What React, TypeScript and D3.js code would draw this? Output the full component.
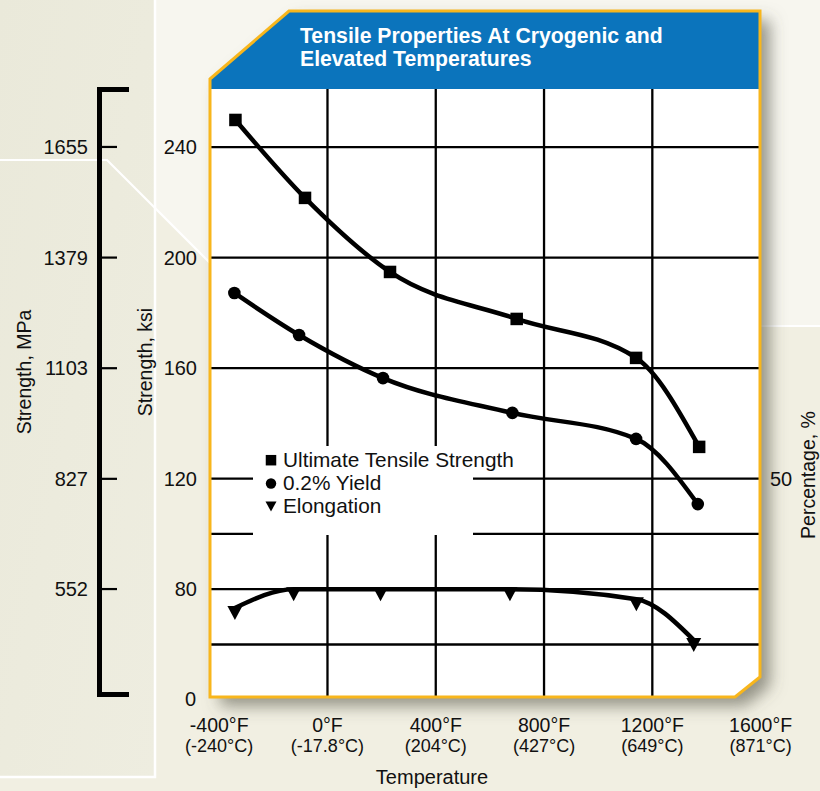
import React from 'react';
import * as d3 from 'd3';

// ---------- data ----------
const tempTicksF = [-400, 0, 400, 800, 1200, 1600];
const tempLabelsF = ['-400°F', '0°F', '400°F', '800°F', '1200°F', '1600°F'];
const tempLabelsC = ['(-240°C)', '(-17.8°C)', '(204°C)', '(427°C)', '(649°C)', '(871°C)'];
const ksiTicks = [240, 200, 160, 120, 80];
const ksiGridLines = [240, 200, 160, 120, 100, 80, 60];
const mpaTicks = [1655, 1379, 1103, 827, 552];
const pctTicks = [50];

const utsTempF = [-340, -83, 231, 699, 1140, 1373];
const utsKsi = [249.8, 221.6, 194.8, 177.8, 163.7, 131.5];
const yieldTempF = [-344, -105, 205, 683, 1140, 1368];
const yieldKsi = [187.2, 172, 156.4, 143.8, 134.4, 110.8];
const elongTempF = [-342, -125, 196, 674, 1141, 1353];
const elongPct = [26.6, 30, 30, 30, 28.2, 20.8];

const seriesNames = ['Ultimate Tensile Strength', '0.2% Yield', 'Elongation'];
const titleLines = ['Tensile Properties At Cryogenic and', 'Elevated Temperatures'];

// ---------- layout ----------
const W = 820;
const H = 791;
const plotL = 210;
const plotR = 760;
const plotT = 89;
const plotB = 697;
const headT = 11;
const FONT = "'Liberation Sans', Arial, Helvetica, sans-serif";

const x = d3.scaleLinear().domain([-400, 1600]).range([219.2, 760.6]);
const yKsi = d3.scaleLinear().domain([41, 261]).range([plotB, plotT]);
const yMpa = d3.scaleLinear().domain([41 * 6.895, 261 * 6.895]).range([plotB, plotT]);
const yPct = d3.scaleLinear().domain([(41 - 20) / 2, (261 - 20) / 2]).range([plotB, plotT]);

const line = d3.line<[number, number]>().curve(d3.curveMonotoneX);

function Square({ cx, cy, s }: { cx: number; cy: number; s: number }) {
  return <rect x={cx - s / 2} y={cy - s / 2} width={s} height={s} fill="#000" />;
}
function Tri({ cx, cy, w, h, top }: { cx: number; cy: number; w: number; h: number; top: number }) {
  const p = `M${cx - w / 2},${cy + top} L${cx + w / 2},${cy + top} L${cx},${cy + top + h} Z`;
  return <path d={p} fill="#000" />;
}

export default function App() {
  const utsPts: [number, number][] = utsTempF.map((t, i) => [x(t), yKsi(utsKsi[i])]);
  const yldPts: [number, number][] = yieldTempF.map((t, i) => [x(t), yKsi(yieldKsi[i])]);
  const elPts: [number, number][] = elongTempF.map((t, i) => [x(t), yPct(elongPct[i])]);

  const panel = `M${plotL},79 L289,${headT} L${plotR},${headT} L${plotR},677 L735,${plotB} L${plotL},${plotB} Z`;
  const header = `M${plotL},79 L289,${headT} L${plotR},${headT} L${plotR},${plotT} L${plotL},${plotT} Z`;

  const legX = 271;
  const legBase = [466.7, 490, 513];

  return (
    <svg width={W} height={H} style={{ position: 'absolute', left: 0, top: 0 }} fontFamily={FONT}>
      <defs>
        <filter id="shadow" x="-10%" y="-10%" width="130%" height="130%">
          <feDropShadow dx="10" dy="9" stdDeviation="8" floodColor="#56564a" floodOpacity="0.6" />
        </filter>
        <linearGradient id="bgL" x1="0" y1="0" x2="1" y2="1">
          <stop offset="0" stopColor="#EAE9DA" />
          <stop offset="1" stopColor="#EEEDE0" />
        </linearGradient>
      </defs>

      {/* background */}
      <rect x={0} y={0} width={W} height={H} fill="#F1EFE2" />
      <rect x={0} y={0} width={155} height={777} fill="url(#bgL)" />
      <path d="M156,0 L820,0 L820,326 L272,326 L156,210 Z" fill="#F7F6EF" />
      <path d="M0,160 L107,160 L273,326 L820,326" fill="none" stroke="#FFFFFF" strokeWidth={2.2} />
      <path d="M155,0 L155,777 L0,777" fill="none" stroke="#FFFFFF" strokeWidth={2.5} />

      {/* MPa bracket axis */}
      <path d="M129,89.5 L99.5,89.5 L99.5,694.5 L129,694.5" fill="none" stroke="#000" strokeWidth={5} />
      {mpaTicks.map((m) => (
        <g key={m}>
          <line x1={100} x2={117} y1={yMpa(m)} y2={yMpa(m)} stroke="#000" strokeWidth={2.2} />
          <text x={88} y={yMpa(m)} dy="0.36em" textAnchor="end" fontSize={20} fill="#111">
            {m}
          </text>
        </g>
      ))}
      <text transform={`translate(31,372) rotate(-90)`} textAnchor="middle" fontSize={19.5} fill="#111">
        Strength, MPa
      </text>

      {/* ksi labels */}
      {ksiTicks.map((k) => (
        <text key={k} x={197} y={yKsi(k)} dy="0.36em" textAnchor="end" fontSize={20} fill="#111">
          {k}
        </text>
      ))}
      <text x={196} y={plotB + 2} dy="0.36em" textAnchor="end" fontSize={20} fill="#111">
        0
      </text>
      <text transform={`translate(152,362) rotate(-90)`} textAnchor="middle" fontSize={19.5} fill="#111">
        Strength, ksi
      </text>

      {/* panel */}
      <path d={panel} fill="#FFFFFF" filter="url(#shadow)" />

      {/* grid */}
      {ksiGridLines.map((k) => (
        <line key={k} x1={plotL} x2={plotR} y1={yKsi(k)} y2={yKsi(k)} stroke="#000" strokeWidth={2.3} />
      ))}
      {tempTicksF.slice(1, 5).map((t) => (
        <line key={t} x1={x(t)} x2={x(t)} y1={plotT} y2={plotB} stroke="#000" strokeWidth={2.3} />
      ))}

      {/* header */}
      <path d={header} fill="#0B74BC" />
      {titleLines.map((t, i) => (
        <text key={t} x={300} y={43 + i * 23} fontSize={21.2} fontWeight="bold" fill="#FFFFFF">
          {t}
        </text>
      ))}

      {/* panel border */}
      <path d={panel} fill="none" stroke="#F8B61C" strokeWidth={3} strokeLinejoin="miter" />

      {/* legend box */}
      <rect x={253} y={446} width={220} height={89} fill="#FFFFFF" />

      {/* curves */}
      <path d={line(utsPts) || ''} fill="none" stroke="#000" strokeWidth={4.5} />
      <path d={line(yldPts) || ''} fill="none" stroke="#000" strokeWidth={4.5} />
      <path d={line(elPts) || ''} fill="none" stroke="#000" strokeWidth={4.5} />

      {utsPts.map(([px, py], i) => (
        <Square key={'u' + i} cx={px} cy={py} s={12.5} />
      ))}
      {yldPts.map(([px, py], i) => (
        <circle key={'y' + i} cx={px} cy={py} r={6.3} fill="#000" />
      ))}
      {elPts.map(([px, py], i) => (
        <Tri key={'e' + i} cx={px} cy={py} w={15} h={14} top={-2} />
      ))}

      {/* legend */}
      <Square cx={legX} cy={legBase[0] - 6.5} s={10.5} />
      <circle cx={legX} cy={legBase[1] - 6.5} r={5.2} fill="#000" />
      <Tri cx={legX} cy={legBase[2] - 6.5} w={11} h={10} top={-5} />
      {seriesNames.map((n, i) => (
        <text key={n} x={283} y={legBase[i]} fontSize={20.8} fill="#111">
          {n}
        </text>
      ))}

      {/* right axis */}
      {pctTicks.map((p) => (
        <text key={p} x={781} y={yPct(p)} dy="0.36em" textAnchor="middle" fontSize={20} fill="#111">
          {p}
        </text>
      ))}
      <text transform={`translate(815,475) rotate(-90)`} textAnchor="middle" fontSize={19.5} fill="#111">
        Percentage, %
      </text>

      {/* x axis labels */}
      {tempTicksF.map((t, i) => (
        <g key={t}>
          <text x={x(t)} y={732} textAnchor="middle" fontSize={19.5} fill="#111">
            {tempLabelsF[i]}
          </text>
          <text x={x(t)} y={752} textAnchor="middle" fontSize={18} fill="#111">
            {tempLabelsC[i]}
          </text>
        </g>
      ))}
      <text x={432} y={784} textAnchor="middle" fontSize={20} fill="#111">
        Temperature
      </text>
    </svg>
  );
}
